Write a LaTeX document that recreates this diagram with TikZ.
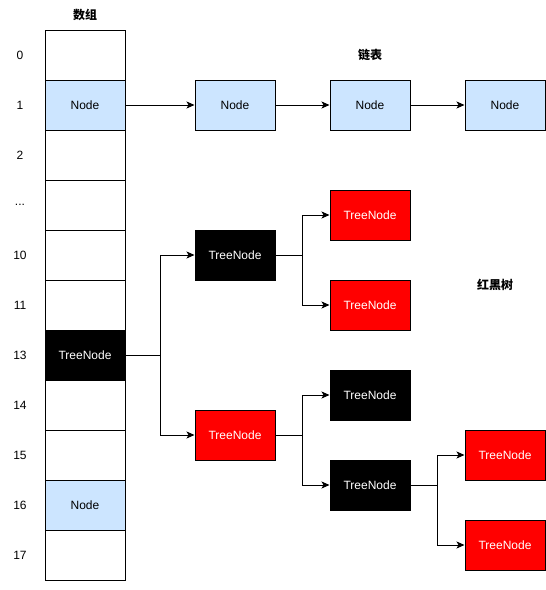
\documentclass[tikz,border=0pt]{standalone}
\usepackage{fontspec}
\setmainfont{Liberation Sans}
\newfontfamily\cjk{Noto Sans CJK SC}
\usetikzlibrary{arrows.meta,positioning}
\definecolor{nodeblue}{HTML}{CCE5FF}
\tikzset{
  cell/.style={draw=black,line width=1pt,minimum width=80pt,minimum height=50pt,inner sep=0pt,font=\fontsize{12}{14}\selectfont},
  bluebox/.style={cell,fill=nodeblue},
  blackbox/.style={cell,fill=black,text=white},
  redbox/.style={cell,fill=red,text=white},
  idx/.style={font=\fontsize{12}{14}\selectfont},
  title/.style={font=\cjk\bfseries\fontsize{12}{14}\selectfont},
  arr/.style={line width=1pt,-{Stealth[length=8pt,width=7pt,inset=2pt]}},
  ln/.style={line width=1pt}
}
\begin{document}
\begin{tikzpicture}[x=1pt,y=-1pt]
\useasboundingbox (0,0) rectangle (546,590);
% array
\node[title] (tarr) at (85,15) {数组};
\node[cell] (r0) at (85,55) {};
\node[bluebox] (r1) at (85,105) {Node};
\node[cell] (r2) at (85,155) {};
\node[cell] (r3) at (85,205) {};
\node[cell] (r10) at (85,255) {};
\node[cell] (r11) at (85,305) {};
\node[blackbox] (r13) at (85,355) {TreeNode};
\node[cell] (r14) at (85,405) {};
\node[cell] (r15) at (85,455) {};
\node[bluebox] (r16) at (85,505) {Node};
\node[cell] (r17) at (85,555) {};
\node[idx] (i0) at (20,55) {0};
\node[idx] (i1) at (20,105) {1};
\node[idx] (i2) at (20,155) {2};
\node[idx] (i3) at (20,205) {...};
\node[idx] (i10) at (20,255) {10};
\node[idx] (i11) at (20,305) {11};
\node[idx] (i13) at (20,355) {13};
\node[idx] (i14) at (20,405) {14};
\node[idx] (i15) at (20,455) {15};
\node[idx] (i16) at (20,505) {16};
\node[idx] (i17) at (20,555) {17};
% linked list
\node[title] (tlist) at (370,55) {链表};
\node[bluebox] (l1) at (235,105) {Node};
\node[bluebox] (l2) at (370,105) {Node};
\node[bluebox] (l3) at (505,105) {Node};
\draw[arr] (r1.east) -- (l1.west);
\draw[arr] (l1.east) -- (l2.west);
\draw[arr] (l2.east) -- (l3.west);
% red-black tree
\node[title] (ttree) at (495,285) {红黑树};
\node[blackbox] (t1) at (235,255) {TreeNode};
\node[redbox] (t2) at (235,435) {TreeNode};
\node[redbox] (t11) at (370,215) {TreeNode};
\node[redbox] (t12) at (370,305) {TreeNode};
\node[blackbox] (t21) at (370,395) {TreeNode};
\node[blackbox] (t22) at (370,485) {TreeNode};
\node[redbox] (t221) at (505,455) {TreeNode};
\node[redbox] (t222) at (505,545) {TreeNode};
\coordinate (j0) at (160,355);
\coordinate (j1) at (302,255);
\coordinate (j2) at (302,435);
\coordinate (j3) at (437,485);
\draw[ln] (r13.east) -- (j0);
\draw[arr] (j0) |- (t1.west);
\draw[arr] (j0) |- (t2.west);
\draw[ln] (t1.east) -- (j1);
\draw[arr] (j1) |- (t11.west);
\draw[arr] (j1) |- (t12.west);
\draw[ln] (t2.east) -- (j2);
\draw[arr] (j2) |- (t21.west);
\draw[arr] (j2) |- (t22.west);
\draw[ln] (t22.east) -- (j3);
\draw[arr] (j3) |- (t221.west);
\draw[arr] (j3) |- (t222.west);
\end{tikzpicture}
\end{document}
